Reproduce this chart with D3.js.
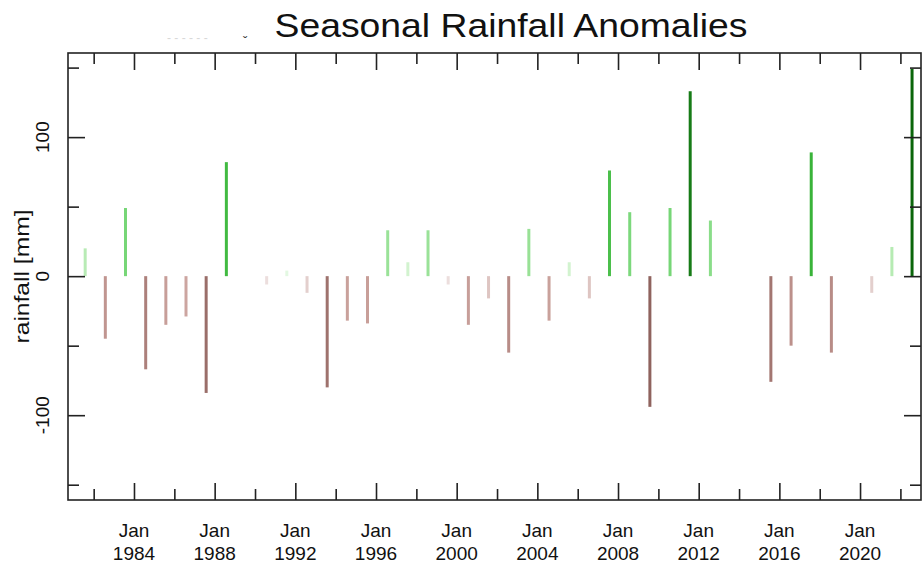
<!DOCTYPE html>
<html>
<head>
<meta charset="utf-8">
<script src="https://cdn.jsdelivr.net/npm/d3@7"></script>
<style>
  body { margin: 0; background: #fff; }
  svg { display: block; font-family: "Liberation Sans", Arial, sans-serif; }
  .tick line { stroke: #222; stroke-width: 1.6; }
</style>
</head>
<body>
<svg id="chart" width="922" height="565"></svg>
<script>
// ----------
// one seasonal value per year, plotted near the end of July
var years = [1981, 1982, 1983, 1984, 1985, 1986, 1987, 1988, 1989, 1990,
  1991, 1992, 1993, 1994, 1995, 1996, 1997, 1998, 1999, 2000,
  2001, 2002, 2003, 2004, 2005, 2006, 2007, 2008, 2009, 2010,
  2011, 2012, 2013, 2014, 2015, 2016, 2017, 2018, 2019, 2020,
  2021, 2022];
var anomalies = [20, -45, 49, -67, -35, -29, -84, 82, 0, -6,
  4, -12, -80, -32, -34, 33, 10, 33, -6, -35,
  -16, -55, 34, -32, 10, -16, 76, 46, -94, 49,
  133, 40, 0, 0, -76, -50, 89, -55, 0, -12,
  21, 149];

var majorYears = [1984, 1988, 1992, 1996, 2000, 2004, 2008, 2012, 2016, 2020];
var minorYears = [1982, 1986, 1990, 1994, 1998, 2002, 2006, 2010, 2014, 2018, 2022];
var majorValues = [-100, 0, 100];
var minorValues = [-150, -50, 50, 150];

var title = 'Seasonal Rainfall Anomalies';
var yLabel = 'rainfall [mm]';

// ----------
// (window.top is read-only, so the plot edges get their own names)
var plotLeft = 68, plotRight = 921, plotTop = 53, plotBottom = 500;

var svg = d3.select('#chart');

var x = d3.scaleTime()
  .domain([new Date(1980, 8, 23), new Date(2023, 0, 9)])
  .range([plotLeft, plotRight]);

var y = d3.scaleLinear()
  .domain([-161, 160.5])
  .range([plotBottom, plotTop]);

var greens = d3.scaleLinear()
  .domain([0, 15, 45, 85, 150])
  .range(['#eefbee', '#c4efc0', '#7ed97e', '#3cb83c', '#0a650a'])
  .clamp(true);

var browns = d3.scaleLinear()
  .domain([0, 10, 30, 60, 95])
  .range(['#f6eeee', '#e6d4d2', '#cba39d', '#b48782', '#8e625d'])
  .clamp(true);

var jan = function(yr) { return new Date(yr, 0, 1); };

// ----------
// bars
var data = years.map(function(yr, i) {
  return { date: new Date(yr, 6, 31), value: anomalies[i] };
});

svg.append('g')
  .selectAll('line')
  .data(data)
  .enter().append('line')
  .attr('x1', function(d) { return x(d.date); })
  .attr('x2', function(d) { return x(d.date); })
  .attr('y1', y(0))
  .attr('y2', function(d) { return y(d.value); })
  .attr('stroke', function(d) {
    return d.value >= 0 ? greens(d.value) : browns(-d.value);
  })
  .attr('stroke-width', 3);

// ----------
// ticks on all four sides, pointing in
function addAxis(axis, tx, ty) {
  var g = svg.append('g')
    .attr('transform', 'translate(' + tx + ',' + ty + ')')
    .call(axis);
  g.select('.domain').remove();
  g.selectAll('.tick text').remove();
  return g;
}

addAxis(d3.axisBottom(x).tickValues(majorYears.map(jan)).tickSize(-17), 0, plotBottom);
addAxis(d3.axisBottom(x).tickValues(minorYears.map(jan)).tickSize(-11), 0, plotBottom);
addAxis(d3.axisTop(x).tickValues(majorYears.map(jan)).tickSize(-17), 0, plotTop);
addAxis(d3.axisTop(x).tickValues(minorYears.map(jan)).tickSize(-11), 0, plotTop);
addAxis(d3.axisLeft(y).tickValues(majorValues).tickSize(-17), plotLeft, 0);
addAxis(d3.axisLeft(y).tickValues(minorValues).tickSize(-11), plotLeft, 0);
addAxis(d3.axisRight(y).tickValues(majorValues).tickSize(-17), plotRight, 0);
addAxis(d3.axisRight(y).tickValues(minorValues).tickSize(-11), plotRight, 0);

svg.append('rect')
  .attr('x', plotLeft)
  .attr('y', plotTop)
  .attr('width', plotRight - plotLeft)
  .attr('height', plotBottom - plotTop)
  .attr('fill', 'none')
  .attr('stroke', '#222')
  .attr('stroke-width', 1.6);

// ----------
// labels
var xl = svg.append('g')
  .selectAll('text')
  .data(majorYears)
  .enter().append('text')
  .attr('text-anchor', 'middle')
  .attr('font-size', 19)
  .attr('fill', '#111');

xl.append('tspan')
  .attr('x', function(d) { return x(jan(d)); })
  .attr('y', 537)
  .text(function(d) { return d3.timeFormat('%b')(jan(d)); });

xl.append('tspan')
  .attr('x', function(d) { return x(jan(d)); })
  .attr('y', 560)
  .text(function(d) { return d3.timeFormat('%Y')(jan(d)); });

svg.append('g')
  .selectAll('text')
  .data(majorValues)
  .enter().append('text')
  .attr('transform', function(d) { return 'translate(49,' + y(d) + ') rotate(-90)'; })
  .attr('text-anchor', 'middle')
  .attr('font-size', 19)
  .attr('fill', '#111')
  .text(function(d) { return d; });

svg.append('text')
  .attr('transform', 'translate(29,' + ((plotTop + plotBottom) / 2) + ') rotate(-90)')
  .attr('text-anchor', 'middle')
  .attr('font-size', 20)
  .attr('fill', '#111')
  .attr('textLength', 134)
  .attr('lengthAdjust', 'spacingAndGlyphs')
  .text(yLabel);

svg.append('text')
  .attr('x', 511)
  .attr('y', 37)
  .attr('text-anchor', 'middle')
  .attr('font-size', 33)
  .attr('fill', '#111')
  .attr('textLength', 473)
  .attr('lengthAdjust', 'spacingAndGlyphs')
  .text(title);

// faint leftover mark left of the title
svg.append('text')
  .attr('x', 167)
  .attr('y', 42)
  .attr('font-size', 12)
  .attr('fill', '#d8d8d8')
  .text('- - - - - -');
svg.append('text')
  .attr('x', 243)
  .attr('y', 46)
  .attr('font-size', 13)
  .attr('fill', '#333')
  .text('\u02c7');
</script>
</body>
</html>
